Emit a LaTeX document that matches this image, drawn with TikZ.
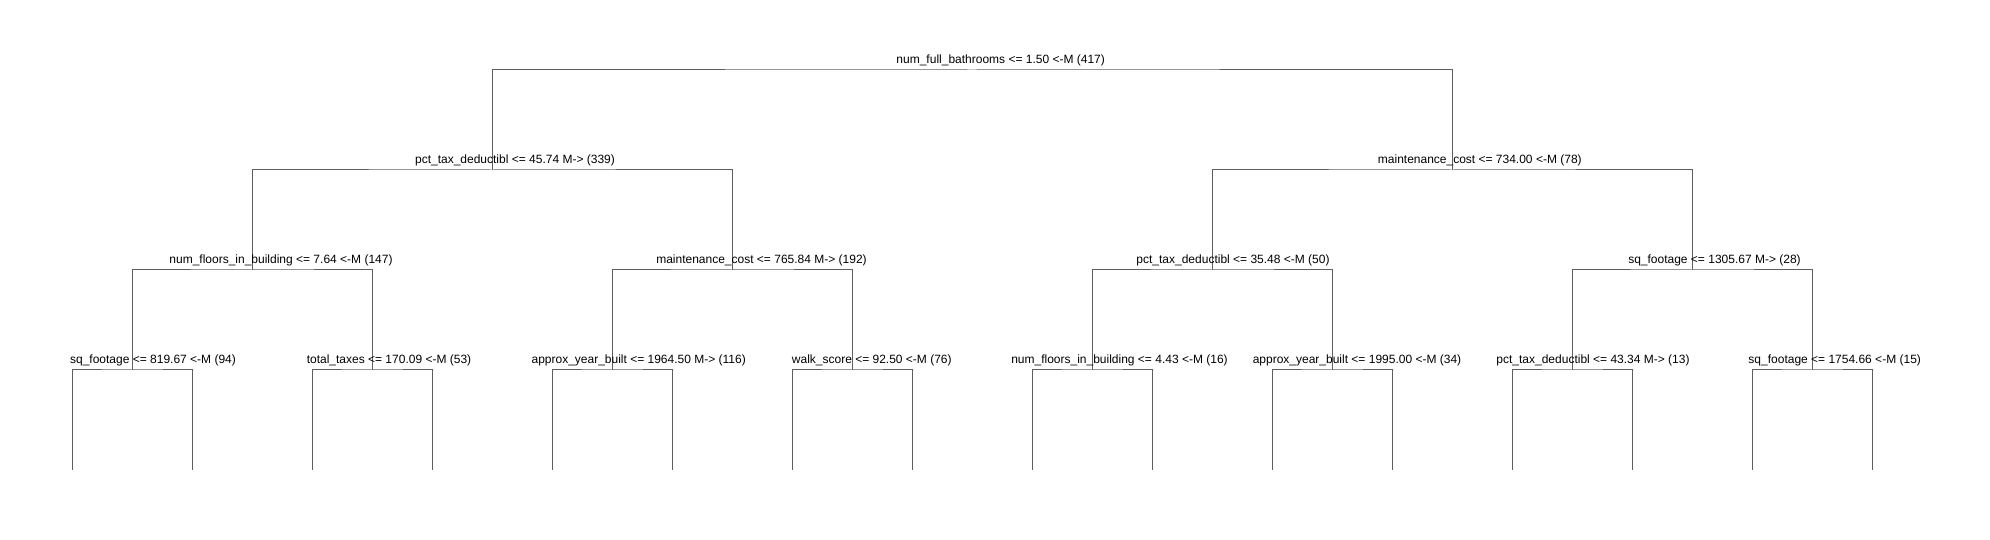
\documentclass[tikz,border=0pt]{standalone}
\usepackage{fontspec}
\setmainfont{Liberation Sans}
\definecolor{branch}{HTML}{5E5E5E}
\begin{document}
\begin{tikzpicture}[x=1pt, y=1pt,
    split/.style={anchor=base, inner sep=0pt, text=black, font=\fontsize{12}{14}\selectfont},
    edge/.style={draw=branch, line width=1pt}]
  \useasboundingbox (0, 0) rectangle (1990, 540);

  \coordinate (root) at (972, 470);
  \coordinate (b0) at (492, 370);
  \coordinate (b1) at (1452, 370);
  \foreach \i in {0,...,3} \coordinate (c\i) at ({252+480*\i}, 270);
  \foreach \i in {0,...,7} \coordinate (d\i) at ({132+240*\i}, 170);
  \foreach \i in {0,...,15} \coordinate (leaf\i) at ({72+120*\i}, 70);

  \draw[edge] (b0) |- (root) -| (b1);
  \draw[edge] (c0) |- (b0) -| (c1);
  \draw[edge] (c2) |- (b1) -| (c3);
  \draw[edge] (d0) |- (c0) -| (d1);
  \draw[edge] (d2) |- (c1) -| (d3);
  \draw[edge] (d4) |- (c2) -| (d5);
  \draw[edge] (d6) |- (c3) -| (d7);
  \foreach \i [evaluate=\i as \l using int(2*\i), evaluate=\i as \r using int(2*\i+1)] in {0,...,7}
    \draw[edge] (leaf\l) |- (d\i) -| (leaf\r);

  \node[split] (t0) at (1000.7, 476.5) {num\_full\_bathrooms <= 1.50 <-M (417)};

  \node[split] (t1) at (515, 376.5) {pct\_tax\_deductibl <= 45.74 M-> (339)};
  \node[split] (t2) at (1479.8, 376.5) {maintenance\_cost <= 734.00 <-M (78)};

  \node[split] (t3) at (281, 276.5) {num\_floors\_in\_building <= 7.64 <-M (147)};
  \node[split] (t4) at (761.5, 276.5) {maintenance\_cost <= 765.84 M-> (192)};
  \node[split] (t5) at (1233, 276.5) {pct\_tax\_deductibl <= 35.48 <-M (50)};
  \node[split] (t6) at (1714.5, 276.5) {sq\_footage <= 1305.67 M-> (28)};

  \node[split] (t7) at (153, 176.5) {sq\_footage <= 819.67 <-M (94)};
  \node[split] (t8) at (389, 176.5) {total\_taxes <= 170.09 <-M (53)};
  \node[split] (t9) at (638.7, 176.5) {approx\_year\_built <= 1964.50 M-> (116)};
  \node[split] (t10) at (871.8, 176.5) {walk\_score <= 92.50 <-M (76)};
  \node[split] (t11) at (1119.5, 176.5) {num\_floors\_in\_building <= 4.43 <-M (16)};
  \node[split] (t12) at (1357, 176.5) {approx\_year\_built <= 1995.00 <-M (34)};
  \node[split] (t13) at (1593, 176.5) {pct\_tax\_deductibl <= 43.34 M-> (13)};
  \node[split] (t14) at (1834.7, 176.5) {sq\_footage <= 1754.66 <-M (15)};
\end{tikzpicture}
\end{document}
